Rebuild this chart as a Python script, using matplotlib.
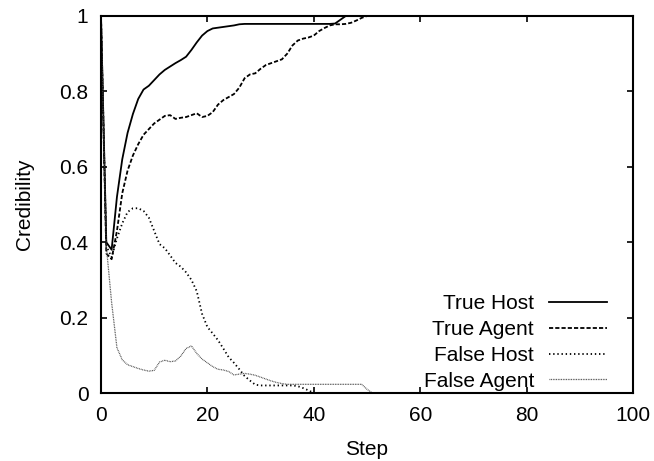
import matplotlib
matplotlib.use("Agg")
import matplotlib.pyplot as plt

# values, integer steps, last point carries the plateau to 100
steps_th = list(range(0, 47)) + [100]
true_host = [1.0, 0.40, 0.38, 0.52, 0.62, 0.69, 0.74, 0.78, 0.805, 0.815,
             0.83, 0.845, 0.857, 0.866, 0.875, 0.883, 0.892, 0.91, 0.93, 0.948,
             0.96, 0.967, 0.969, 0.971, 0.973, 0.975, 0.978, 0.979, 0.979, 0.979,
             0.979, 0.979, 0.979, 0.979, 0.979, 0.979, 0.979, 0.979, 0.979, 0.979,
             0.979, 0.979, 0.979, 0.979, 0.98, 0.99, 1.0, 1.0]

steps_ta = list(range(0, 51)) + [100]
true_agent = [1.0, 0.37, 0.355, 0.43, 0.53, 0.59, 0.63, 0.66, 0.685, 0.70,
              0.715, 0.725, 0.735, 0.737, 0.727, 0.73, 0.732, 0.737, 0.742, 0.732,
              0.735, 0.745, 0.765, 0.777, 0.785, 0.793, 0.81, 0.835, 0.845, 0.848,
              0.86, 0.87, 0.875, 0.88, 0.885, 0.90, 0.922, 0.935, 0.94, 0.943,
              0.948, 0.96, 0.968, 0.975, 0.978, 0.978, 0.979, 0.982, 0.988, 0.995,
              1.0, 1.0]

steps_fh = list(range(0, 41)) + [100]
false_host = [1.0, 0.39, 0.36, 0.41, 0.45, 0.48, 0.49, 0.49, 0.483, 0.465,
              0.43, 0.395, 0.384, 0.365, 0.345, 0.335, 0.32, 0.30, 0.27, 0.21,
              0.175, 0.158, 0.14, 0.118, 0.095, 0.08, 0.063, 0.045, 0.033, 0.022,
              0.02, 0.02, 0.02, 0.02, 0.02, 0.02, 0.02, 0.018, 0.013, 0.007,
              0.0, 0.0]

steps_fa = list(range(0, 52)) + [100]
false_agent = [1.0, 0.39, 0.24, 0.12, 0.088, 0.075, 0.07, 0.065, 0.061, 0.058,
               0.06, 0.082, 0.087, 0.083, 0.085, 0.098, 0.118, 0.125, 0.105, 0.09,
               0.08, 0.07, 0.063, 0.061, 0.057, 0.048, 0.05, 0.052, 0.05, 0.047,
               0.042, 0.037, 0.032, 0.028, 0.025, 0.023, 0.023, 0.023, 0.023, 0.023,
               0.023, 0.023, 0.023, 0.023, 0.023, 0.023, 0.023, 0.023, 0.023, 0.023,
               0.01, 0.0, 0.0]

x_ticks = [0, 20, 40, 60, 80, 100]
y_ticks = [0, 0.2, 0.4, 0.6, 0.8, 1]
y_tick_labels = ["0", "0.2", "0.4", "0.6", "0.8", "1"]

plt.rcParams["font.family"] = ["Liberation Sans", "DejaVu Sans"]
plt.rcParams["font.size"] = 15
plt.rcParams["lines.scale_dashes"] = False

fig = plt.figure(figsize=(6.54, 4.61), dpi=100)
ax = fig.add_axes([0.1544, 0.1475, 0.8135, 0.8178])

ax.plot(steps_th, true_host, color="black", lw=1.3, label="True Host")
ax.plot(steps_ta, true_agent, color="black", lw=1.3, dashes=(3.0, 1.5), label="True Agent")
ax.plot(steps_fh, false_host, color="black", lw=1.3, dashes=(1.0, 2.0), label="False Host")
ax.plot(steps_fa, false_agent, color="#444444", lw=0.9, dashes=(0.6, 0.6), label="False Agent")

ax.set_xlim(0, 100)
ax.set_ylim(0, 1)
ax.set_xticks(x_ticks)
ax.set_yticks(y_ticks)
ax.set_yticklabels(y_tick_labels)
ax.tick_params(direction="in", length=4.5, width=1.2, top=True, right=True, colors="black")
ax.tick_params(axis="x", pad=9)
ax.tick_params(axis="y", pad=9)
for sp in ax.spines.values():
    sp.set_linewidth(1.5)

ax.set_xlabel("Step", labelpad=11)
ax.set_ylabel("Credibility", labelpad=18)

leg = ax.legend(loc="lower right", bbox_to_anchor=(0.951, 0.006), frameon=False,
                markerfirst=False, handlelength=2.8, handletextpad=0.7,
                borderpad=0, borderaxespad=0, labelspacing=0.33)
leg._legend_box.align = "right"

fig.savefig("out.png", dpi=100)
